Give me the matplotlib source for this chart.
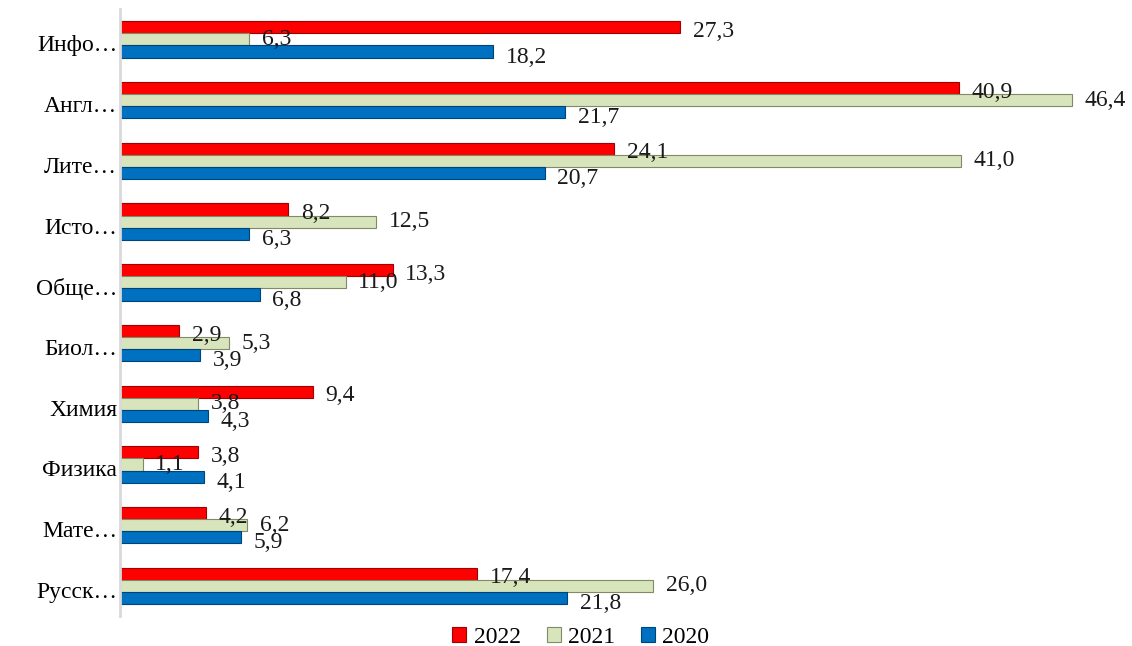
import numpy as np
import matplotlib
matplotlib.use('Agg')
import matplotlib.pyplot as plt
import matplotlib.transforms as mtransforms

# категории снизу вверх
categories = ['Русск…', 'Мате…', 'Физика', 'Химия', 'Биол…',
              'Обще…', 'Исто…', 'Лите…', 'Англ…', 'Инфо…']
val_2022 = [17.4, 4.2, 3.8, 9.4, 2.9, 13.3, 8.2, 24.1, 40.9, 27.3]
val_2021 = [26.0, 6.2, 1.1, 3.8, 5.3, 11.0, 12.5, 41.0, 46.4, 6.3]
val_2020 = [21.8, 5.9, 4.1, 4.3, 3.9, 6.8, 6.3, 20.7, 21.7, 18.2]

plt.rcParams['font.family'] = ['Liberation Serif', 'DejaVu Serif']

fig = plt.figure(figsize=(11.32, 6.46), dpi=100)
ax = fig.add_axes([0.106, 0.046, 0.87, 0.94])

y = np.arange(len(categories))
h = 0.2
series = [
    (val_2022, '2022', '#ff0000', '#a00000', h, 3),
    (val_2021, '2021', '#d8e4bc', '#7f8a66', 0, 0),
    (val_2020, '2020', '#0070c0', '#00457a', -h, 4),
]

for vals, lab, col, edge, off, dy in series:
    ax.barh(y + off, vals, height=h, color=col, edgecolor=edge,
            linewidth=0.8, label=lab)
    for yi, v in zip(y, vals):
        ax.annotate(f'{v:.1f}'.replace('.', ','), (v, yi + off),
                    xytext=(9, -dy), textcoords='offset points',
                    va='center', ha='left', fontsize=17, color='#1a1a1a')

ax.set_xlim(0, 48)
ax.set_ylim(-0.5, len(categories) - 0.5)
ax.set_yticks(y)
ax.set_yticklabels(categories, fontsize=17)
ax.tick_params(axis='y', length=0, pad=2)
# подписи категорий чуть ниже центра группы, как в оригинале
shift = mtransforms.ScaledTranslation(0, -4 / 100, fig.dpi_scale_trans)
for t in ax.get_yticklabels():
    t.set_transform(t.get_transform() + shift)
ax.set_xticks([])
for s in ['top', 'right', 'bottom']:
    ax.spines[s].set_visible(False)
ax.spines['left'].set_color('#d9d9d9')
ax.spines['left'].set_linewidth(2)

handles, labels = ax.get_legend_handles_labels()
fig.legend(handles, labels, loc='center', bbox_to_anchor=(0.513, 0.013),
           ncol=3, frameon=False, fontsize=17, handlelength=0.6,
           handleheight=0.6, handletextpad=0.3, columnspacing=1.1)

plt.savefig('out.png', dpi=100)
